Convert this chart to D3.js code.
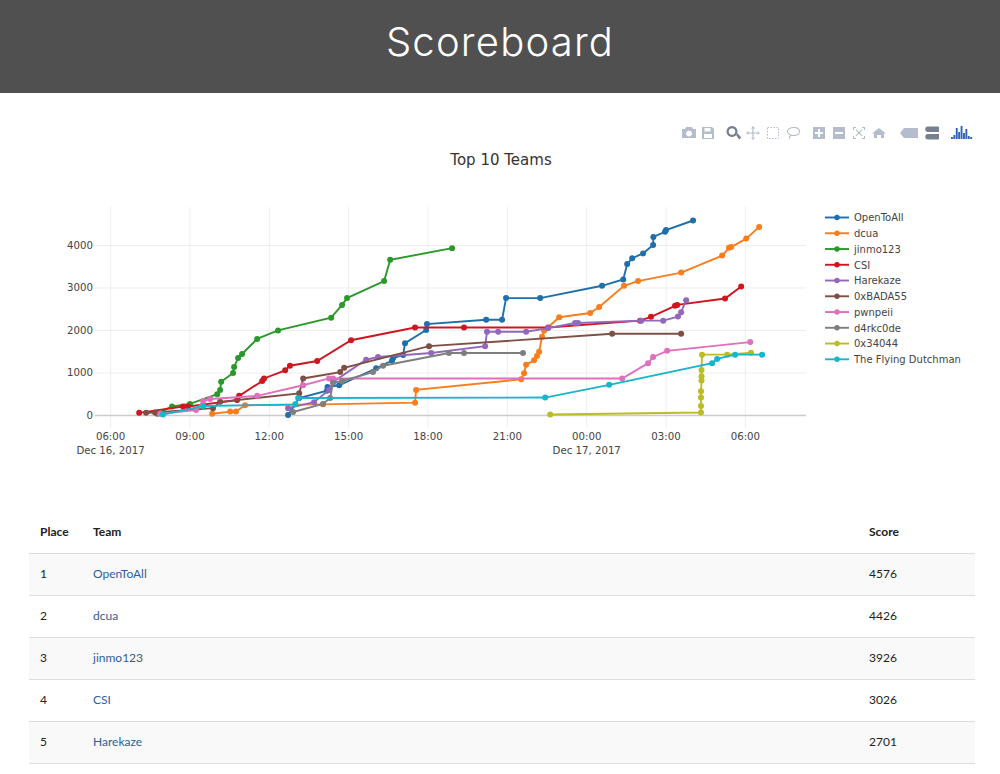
<!DOCTYPE html>
<html>
<head>
<meta charset="utf-8">
<title>Scoreboard</title>
<script src="https://cdnjs.cloudflare.com/ajax/libs/d3/7.8.5/d3.min.js"></script>
<style>
html, body { margin: 0; padding: 0; background: #fff; overflow: hidden; }
#page { position: relative; width: 1000px; height: 774px; overflow: hidden; }
#header { position: absolute; left: 0; top: 0; width: 1000px; height: 93px; background: #505050; color: #fff;
  font: 300 40px Inter, sans-serif; text-align: center; line-height: 84px; letter-spacing: 1.2px; }
#chart { position: absolute; left: 0; top: 0; }
table { position: absolute; left: 29px; top: 511px; width: 946px; border-collapse: collapse; table-layout: fixed;
  font: 12px Lato, sans-serif; color: #222; }
th { text-align: left; font-weight: 700; height: 42px; padding: 0 0 0 11px; border-bottom: 1px solid #ddd; box-sizing: border-box; }
td { height: 42px; padding: 0 0 2px 11px; border-bottom: 1px solid #ddd; box-sizing: border-box; }
tr.odd td { background: #f9f9f9; }
td a { color: #2f5d9b; text-decoration: none; }
</style>
</head>
<body>
<div id="page">
  <div id="header">Scoreboard</div>
  <svg id="chart" width="1000" height="500"></svg>
</div>
<script>
// points are [hours since Dec 16 2017 00:00, score]
var openToAll = [[12.73,0],[13.15,400],[14.2,570],[14.22,660],[14.66,700],[16.06,1100],[16.66,1280],[16.7,1340],[17.08,1410],[17.15,1690],[17.95,2000],[17.98,2140],[20.22,2240],[20.82,2240],[20.97,2750],[22.26,2750],[24.6,3040],[25.4,3190],[25.55,3550],[25.74,3690],[26.15,3800],[26.53,4000],[26.54,4190],[26.98,4310],[27.02,4350],[28.04,4576]];
var dcua = [[9.86,30],[10.54,80],[10.76,80],[11.1,230],[14.05,250],[17.53,290],[17.57,590],[21.54,840],[21.65,980],[21.73,1180],[22.03,1290],[22.14,1390],[22.22,1490],[22.33,1840],[22.41,1980],[22.98,2300],[24.15,2400],[24.49,2540],[25.43,3040],[25.96,3150],[27.59,3350],[29.14,3750],[29.4,3935],[29.48,3950],[30.05,4150],[30.54,4426]];
var jinmo123 = [[7.78,30],[8.34,200],[9.02,260],[10.05,490],[10.16,590],[10.2,780],[10.65,990],[10.69,1130],[10.84,1340],[10.99,1435],[11.56,1790],[12.35,1990],[14.36,2290],[14.77,2590],[14.96,2750],[16.36,3150],[16.59,3650],[18.93,3926]];
var csi = [[7.1,50],[8.76,200],[8.95,200],[10.8,350],[10.88,450],[11.75,800],[11.82,860],[12.62,1050],[12.8,1160],[13.83,1270],[15.11,1760],[17.53,2060],[19.38,2060],[22.56,2060],[26.04,2220],[26.45,2310],[27.36,2570],[27.44,2590],[29.25,2740],[29.86,3026]];
var harekaze = [[12.73,160],[13.71,300],[14.28,590],[14.43,780],[15.68,1300],[16.13,1365],[18.14,1460],[20.18,1620],[20.25,1960],[20.67,1960],[21.73,1960],[22.56,2045],[23.58,2165],[23.69,2165],[26.08,2220],[26.91,2220],[27.47,2315],[27.59,2420],[27.78,2701]];
var bada55 = [[7.36,50],[7.7,60],[9.89,160],[10.16,310],[13.15,510],[13.3,860],[14.7,1010],[14.85,1110],[18.06,1620],[24.98,1910],[27.59,1910]];
var pwnpeii = [[7.89,30],[9.25,115],[9.52,330],[9.78,375],[11.56,450],[13.3,700],[14.28,860],[14.43,860],[25.36,860],[26.34,1220],[26.53,1365],[27.06,1510],[30.2,1715]];
var d4rkc0de = [[12.92,70],[14.05,260],[14.32,400],[14.43,760],[14.77,800],[15.94,1010],[16.32,1160],[18.81,1460],[19.38,1460],[21.61,1460]];
var x34044 = [[22.64,10],[28.34,60],[28.34,210],[28.34,410],[28.34,560],[28.36,810],[28.36,910],[28.36,1060],[28.38,1420],[29.33,1420],[30.23,1465]];
var dutchman = [[8.0,10],[9.52,210],[13.0,250],[13.11,400],[22.45,410],[24.87,710],[28.76,1220],[28.95,1320],[29.63,1420],[30.65,1420]];

var teamNames = ["OpenToAll", "dcua", "jinmo123", "CSI", "Harekaze", "0xBADA55", "pwnpeii", "d4rkc0de", "0x34044", "The Flying Dutchman"];
var teamSeries = [openToAll, dcua, jinmo123, csi, harekaze, bada55, pwnpeii, d4rkc0de, x34044, dutchman];
var teamColors = ["#1f6fab", "#fb7d1c", "#2a982a", "#d0151f", "#9467bd", "#7f4f45", "#df70bd", "#7f7f7f", "#bcbd22", "#17b6ca"];

var yTicks = [0, 1000, 2000, 3000, 4000];
var xTickHours = [6, 9, 12, 15, 18, 21, 24, 27, 30];
var tablePlaces = [1, 2, 3, 4, 5];
var tableTeams = ["OpenToAll", "dcua", "jinmo123", "CSI", "Harekaze"];
var tableScores = [4576, 4426, 3926, 3026, 2701];

var base = Date.UTC(2017, 11, 16);
function toDate(h) { return new Date(base + h * 3600000); }

var x = d3.scaleUtc().domain([toDate(5.43), toDate(32.31)]).range([95, 806]);
var y = d3.scaleLinear().domain([-306, 4894]).range([428, 207]);

var svg = d3.select("#chart");
var axisFont = "DejaVu Sans, sans-serif";

svg.append("text")
    .attr("x", 501).attr("y", 165)
    .attr("text-anchor", "middle")
    .style("font", "15px " + axisFont)
    .style("fill", "#333")
    .text("Top 10 Teams");

// x axis with vertical grid
var xAxis = d3.axisBottom(x)
    .tickValues(xTickHours.map(toDate))
    .tickSize(-221)
    .tickPadding(5)
    .tickFormat(d3.utcFormat("%H:%M"));
var gx = svg.append("g").attr("transform", "translate(0,428)").call(xAxis);
gx.select(".domain").remove();
gx.selectAll("line").attr("stroke", "#eee");
gx.selectAll("text")
    .style("font", "10.2px " + axisFont)
    .style("fill", "#444");
gx.selectAll(".tick").each(function(d) {
    var h = (d - base) / 3600000;
    if (h === 6 || h === 24) {
        d3.select(this).select("text").append("tspan")
            .attr("x", 0).attr("dy", "1.3em")
            .text(d3.utcFormat("%b %d, %Y")(d));
    }
});

// y axis with horizontal grid
var yAxis = d3.axisLeft(y)
    .tickValues(yTicks)
    .tickSize(-711)
    .tickPadding(2)
    .tickFormat(d3.format("d"));
var gy = svg.append("g").attr("transform", "translate(95,0)").call(yAxis);
gy.select(".domain").remove();
gy.selectAll("line").attr("stroke", function(d) { return d === 0 ? "#ccc" : "#eee"; })
    .attr("stroke-width", function(d) { return d === 0 ? 1.6 : 1; });
gy.selectAll("text")
    .style("font", "10.2px " + axisFont)
    .style("fill", "#444");

// series
var line = d3.line()
    .x(function(d) { return x(toDate(d[0])); })
    .y(function(d) { return y(d[1]); });

var teams = svg.selectAll(".team")
    .data(teamSeries)
    .enter().append("g")
    .attr("class", "team");
teams.append("path")
    .attr("d", line)
    .attr("fill", "none")
    .attr("stroke-width", 1.9)
    .attr("stroke", function(d, i) { return teamColors[i]; });
teams.each(function(d, i) {
    d3.select(this).selectAll("circle")
        .data(d)
        .enter().append("circle")
        .attr("cx", function(p) { return x(toDate(p[0])); })
        .attr("cy", function(p) { return y(p[1]); })
        .attr("r", 3)
        .attr("fill", teamColors[i]);
});

// legend
var legendY = d3.scaleLinear().domain([0, 9]).range([217.5, 359.3]);
var legend = svg.selectAll(".legend-item")
    .data(teamNames)
    .enter().append("g")
    .attr("class", "legend-item")
    .attr("transform", function(d, i) { return "translate(825," + legendY(i) + ")"; });
legend.append("line")
    .attr("x2", 24)
    .attr("stroke-width", 1.9)
    .attr("stroke", function(d, i) { return teamColors[i]; });
legend.append("circle")
    .attr("cx", 12)
    .attr("r", 2.7)
    .attr("fill", function(d, i) { return teamColors[i]; });
legend.append("text")
    .attr("x", 29).attr("y", 3.8)
    .style("font", "10px " + axisFont)
    .style("fill", "#444")
    .text(function(d) { return d; });

// modebar
var iconGrey = "#b4bccd";
var iconDark = "#77808f";
var iconPaths = [
    { x: 689, d: "M-7,-4h3l1,-2h6l1,2h3v9h-14z M0,-2.5a3,3 0 1,0 .01,0z", rule: "evenodd" },
    { x: 708, d: "M-6,-6h10l2,2v10h-12z M-3.5,-5v3.5h6v-3.5z M-4,1v4h8v-4z", rule: "evenodd" },
    { x: 733, d: "M-1,-7a5.5,5.5 0 1,0 .01,0z M-1,-4.8a3.3,3.3 0 1,1 -.01,0z M2.8,1.8l1.8,-1.6l3.6,4.4l-2,1.8z", rule: "evenodd", fill: iconDark },
    { x: 753, d: "M-.6,-5h1.2v10h-1.2z M-5,-.6h10v1.2h-10z M0,-7l2,2.5h-4z M0,7l2,-2.5h-4z M-7,0l2.5,-2v4z M7,0l-2.5,-2v4z" },
    { x: 793, d: "M1,-6c4,0 6,2 6,4.5c0,3 -3,4.5 -6,4.5l-3,0c-1,1 -1,2 -1,3l-1,-.5c0,-1 .3,-2.5 1,-3.3c-2,-.8 -3,-2.2 -3,-3.7c0,-2.5 3,-4.5 7,-4.5z M1,-5c-3,0 -6,1.5 -6,3.5c0,2 3,3.5 6,3.5c3,0 5,-1.5 5,-3.5c0,-2 -2,-3.5 -5,-3.5z", rule: "evenodd" },
    { x: 819, d: "M-6,-6h12v12h-12z M-1,-4v3h-3v2h3v3h2v-3h3v-2h-3v-3z", rule: "evenodd" },
    { x: 839, d: "M-6,-6h12v12h-12z M-4,-1v2h8v-2z", rule: "evenodd" },
    { x: 859, d: "M-6,-6h3v1h-2v2h-1z M6,-6h-3v1h2v2h1z M-6,6h3v-1h-2v-2h-1z M6,6h-3v-1h2v-2h1z M-3.5,-3l.7,-.7l6.3,6.3l-.7,.7z M3.5,-3l-.7,-.7l-6.3,6.3l.7,.7z" },
    { x: 879, d: "M0,-5l7,5.5h-2v4.5h-3v-3h-4v3h-3v-4.5h-2z" },
    { x: 909, d: "M-9,0l4,-5h14v10h-14z" },
    { x: 933, d: "M-5,-6.5h10a1,1 0 0,1 1,1v4.5h-11a2.5,2.5 0 0,1 0,-5.5z M-5,1h11v4.5a1,1 0 0,1 -1,1h-10a2.5,2.5 0 0,1 0,-5.5z", fill: iconDark }
];
svg.selectAll(".modebar-icon")
    .data(iconPaths)
    .enter().append("path")
    .attr("class", "modebar-icon")
    .attr("transform", function(d) { return "translate(" + d.x + ",133)"; })
    .attr("d", function(d) { return d.d; })
    .attr("fill-rule", function(d) { return d.rule || "nonzero"; })
    .attr("fill", function(d) { return d.fill || iconGrey; });
svg.append("rect")
    .attr("x", 767.5).attr("y", 127.5).attr("width", 11).attr("height", 11)
    .attr("fill", "none").attr("stroke", iconGrey).attr("stroke-dasharray", "1.5,1.5");
// plotly logo bars
var logoBars = [2, 4, 11, 7, 13, 6, 10, 3, 2];
svg.selectAll(".logo-bar")
    .data(logoBars)
    .enter().append("rect")
    .attr("class", "logo-bar")
    .attr("x", function(d, i) { return 951 + i * 2.4; })
    .attr("y", function(d) { return 139 - d; })
    .attr("width", 1.9)
    .attr("height", function(d) { return d; })
    .attr("fill", "#2f62c0");

// table
var table = d3.select("#page").append("table");
var colgroup = table.append("colgroup");
colgroup.append("col").style("width", "53px");
colgroup.append("col").style("width", "776px");
colgroup.append("col").style("width", "117px");
table.append("thead").append("tr").selectAll("th")
    .data(["Place", "Team", "Score"])
    .enter().append("th")
    .text(function(d) { return d; });
var rows = table.append("tbody").selectAll("tr")
    .data(tablePlaces)
    .enter().append("tr")
    .attr("class", function(d, i) { return i % 2 === 0 ? "odd" : "even"; });
rows.append("td").text(function(d) { return d; });
rows.append("td").append("a").attr("href", "#").text(function(d, i) { return tableTeams[i]; });
rows.append("td").text(function(d, i) { return tableScores[i]; });
</script>
</body>
</html>
